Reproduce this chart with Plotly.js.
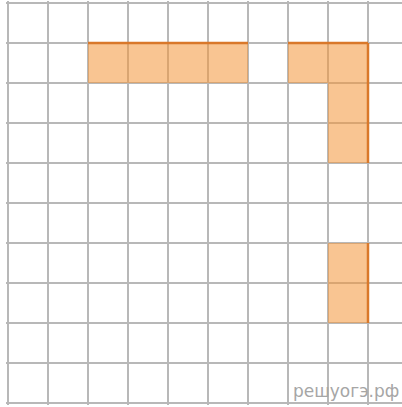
<!DOCTYPE html>
<html><head><meta charset="utf-8">
<script src="https://cdn.plot.ly/plotly-3.0.1.min.js"></script>
<style>html,body{margin:0;padding:0;background:#fff}</style>
</head><body><div id="chart" style="width:402px;height:407px"></div>
<script>
// Shaded cells: [column, row] counted from top-left
const cellCols = [2, 3, 4, 5, 7, 8, 8, 8, 8, 8];
const cellRows = [1, 1, 1, 1, 1, 1, 2, 3, 6, 7];
// Highlighted edges: [x0, y0, x1, y1] in grid units
const edgeX0 = [2, 7, 9, 9];
const edgeY0 = [1, 1, 1, 6];
const edgeX1 = [6, 9, 9, 9];
const edgeY1 = [1, 1, 4, 8];
const watermark = "решуогэ.рф";

const traces = [];
for (let i = 0; i < cellCols.length; i++) {
  const c = cellCols[i], r = cellRows[i];
  traces.push({
    type: 'scatter', mode: 'lines',
    x: [c, c + 1, c + 1, c, c], y: [r, r, r + 1, r + 1, r],
    fill: 'toself', fillcolor: 'rgba(244,150,56,0.55)',
    line: {width: 0}, hoverinfo: 'skip', showlegend: false
  });
}
for (let i = 0; i < edgeX0.length; i++) {
  traces.push({
    type: 'scatter', mode: 'lines',
    x: [edgeX0[i], edgeX1[i]], y: [edgeY0[i], edgeY1[i]],
    line: {color: '#d9782a', width: 2.5}, hoverinfo: 'skip', showlegend: false
  });
}

const layout = {
  width: 402, height: 407,
  margin: {l: 6, r: 0, t: 1, b: 2, pad: 0},
  paper_bgcolor: '#fff', plot_bgcolor: '#fff',
  showlegend: false,
  xaxis: {range: [-0.05, 9.85], dtick: 1, tick0: 0, showgrid: true, gridcolor: '#b8b8b8', gridwidth: 2,
          zeroline: false, showline: false, showticklabels: false, ticks: '', fixedrange: true},
  yaxis: {range: [10.05, -0.05], dtick: 1, tick0: 0, showgrid: true, gridcolor: '#b8b8b8', gridwidth: 2,
          zeroline: false, showline: false, showticklabels: false, ticks: '', fixedrange: true},
  annotations: [{
    text: watermark, xref: 'paper', yref: 'paper', x: 1, y: 0, xanchor: 'right', yanchor: 'bottom',
    yshift: 2, xshift: -1, showarrow: false,
    font: {family: 'DejaVu Sans', size: 17, color: '#a6a6a6'}
  }]
};
Plotly.newPlot('chart', traces, layout, {staticPlot: true, displayModeBar: false});
</script></body></html>
